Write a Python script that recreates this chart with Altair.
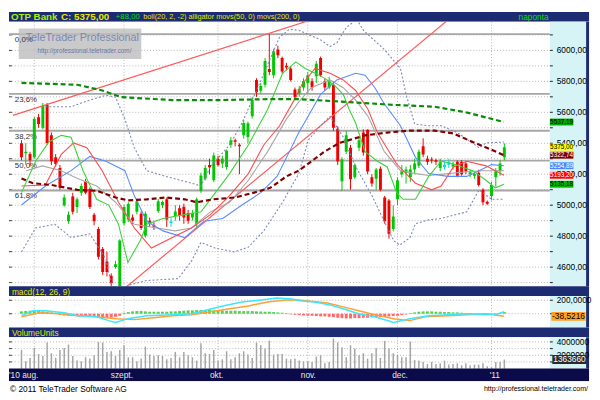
import altair as alt
import pandas as pd

FONT = "Liberation Sans, Arial, sans-serif"

# ---------------- data ----------------
OPEN = [5400, 5335, 5330, 5310, 5568, 5500, 5648, 5451, 5309, 5241,
        5000, 4896, 5056, 4988, 5081, 5155, 5105, 4939, 4846, 4717,
        4637, 4544, 4600, 4464, 4883, 4908, 4920, 4957, 4945, 4803,
        4900, 4870, 4963, 5000, 5038, 4885, 4930, 4980, 4990, 4950,
        4920, 4877, 5093, 5173, 5260, 5161, 5300, 5270, 5247, 5390,
        5420, 5390, 5451, 5440, 5574, 5809, 5740, 5778, 5880, 5840,
        6006, 5951, 5900, 5883, 5747, 5720, 5760, 5790, 5800, 5833,
        5951, 5800, 5760, 5778, 5494, 5155, 5346, 5371, 5180, 5371,
        5470, 5488, 5180, 5170, 5235, 5050, 5031, 4846, 5038, 5200,
        5210, 5180, 5230, 5254, 5380, 5300, 5295, 5290, 5240, 5245,
        5262, 5250, 5280, 5280, 5270, 5200, 5190, 5210, 5100, 5022,
        5060, 5180, 5220, 5309]
HIGH = [5420, 5400, 5345, 5570, 5590, 5660, 5660, 5470, 5330, 5260,
        5070, 4960, 5080, 5050, 5140, 5170, 5115, 4950, 4860, 4730,
        4700, 4560, 4640, 4780, 5000, 5020, 4940, 5040, 4960, 4960,
        4920, 4890, 5040, 5030, 5050, 4920, 5000, 5000, 5010, 4970,
        4970, 5050, 5210, 5260, 5300, 5340, 5320, 5320, 5360, 5440,
        5430, 5400, 5550, 5540, 5700, 5820, 5790, 5950, 6105, 6010,
        6030, 5960, 5920, 5900, 5760, 5770, 5820, 5860, 5820, 5930,
        5960, 5820, 5830, 5800, 5510, 5310, 5480, 5390, 5270, 5440,
        5490, 5490, 5200, 5240, 5250, 5060, 5040, 5000, 5180, 5260,
        5250, 5260, 5300, 5360, 5432, 5320, 5310, 5300, 5300, 5290,
        5300, 5280, 5290, 5290, 5280, 5230, 5220, 5230, 5110, 5030,
        5150, 5240, 5290, 5400]
LOW = [5290, 5260, 5250, 5300, 5500, 5490, 5390, 5260, 5250, 5100,
       4990, 4880, 4940, 4950, 5060, 5070, 4975, 4870, 4650, 4550,
       4540, 4470, 4590, 4450, 4870, 4890, 4880, 4940, 4840, 4790,
       4860, 4840, 4950, 4980, 4860, 4860, 4900, 4900, 4880, 4880,
       4900, 4860, 5080, 5160, 5200, 5150, 5250, 5240, 5230, 5370,
       5380, 5200, 5430, 5400, 5560, 5700, 5720, 5760, 5840, 5820,
       5950, 5850, 5870, 5800, 5680, 5700, 5740, 5720, 5740, 5790,
       5830, 5740, 5750, 5480, 5260, 5093, 5330, 5100, 5170, 5350,
       5320, 5200, 5120, 5100, 5090, 4880, 4784, 4830, 5000, 5180,
       5140, 5150, 5200, 5240, 5310, 5260, 5270, 5260, 5220, 5230,
       5240, 5230, 5180, 5190, 5200, 5180, 5170, 5120, 5000, 5000,
       5030, 5120, 5190, 5290]
CLOSE = [5310, 5345, 5290, 5556, 5525, 5642, 5402, 5284, 5266, 5112,
         5050, 4939, 4957, 5038, 5124, 5081, 4988, 4896, 4667, 4569,
         4569, 4495, 4618, 4772, 4988, 5007, 4900, 5025, 4853, 4945,
         4880, 4860, 5025, 5020, 4908, 4895, 4960, 4930, 4920, 4900,
         4950, 5038, 5192, 5241, 5245, 5321, 5260, 5300, 5352, 5420,
         5410, 5380, 5531, 5530, 5679, 5729, 5770, 5932, 5860, 5994,
         5969, 5864, 5890, 5809, 5698, 5750, 5803, 5840, 5760, 5914,
         5840, 5760, 5803, 5500, 5284, 5297, 5451, 5167, 5260, 5420,
         5340, 5217, 5140, 5230, 5100, 4896, 4815, 4927, 5161, 5220,
         5230, 5230, 5270, 5346, 5327, 5280, 5288, 5280, 5280, 5262,
         5278, 5265, 5190, 5200, 5220, 5212, 5202, 5130, 5019, 5010,
         5130, 5220, 5270, 5375]
NEUTRAL_IDX = [35, 99, 100]

VOLUME_M = [2.8, 1.1, 1.6, 3.1, 2.2, 1.9, 3.9, 2.3, 1.6, 2.8,
            3.1, 3.6, 1.9, 1.2, 1.1, 1.7, 1.5, 2.0, 4.0, 3.9,
            2.5, 2.6, 1.9, 2.8, 3.5, 1.7, 1.7, 1.1, 1.5, 3.3,
            2.1, 1.9, 2.0, 1.9, 1.4, 1.6, 2.5, 1.7, 2.5, 2.0,
            1.7, 1.2, 3.8, 2.3, 2.2, 2.8, 1.2, 1.4, 2.6, 1.4,
            1.7, 2.3, 2.6, 2.1, 1.6, 3.9, 3.5, 3.0, 4.2, 2.1,
            2.2, 2.2, 1.5, 1.4, 1.5, 1.2, 1.1, 1.1, 1.0, 1.8,
            2.0, 0.8, 1.0, 4.5, 3.95, 3.2, 1.7, 3.5, 3.0, 2.0,
            2.3, 1.5, 2.3, 3.1, 1.6, 4.15, 3.0, 2.3, 2.1, 1.7,
            1.7, 4.05, 1.3, 1.2, 1.0, 0.7, 1.0, 0.7, 0.8, 1.2,
            0.6, 0.7, 0.8, 0.5, 0.8, 0.5, 0.6, 0.6, 0.8, 0.35,
            0.2, 1.0, 1.0, 1.36366]

MACD_HIST = [35, 40, 45, 45, 40, 35, 30, 20, 10,
             -15, -25, -30, -35, -35, -30, -35, -40, -45, -50, -55, -60, -55, -45, -30,
             15, 25, 35, 40, 40, 35, 30, 30, 30, 30, 30, 35, 35, 40, 45, 50, 50, 55, 55, 55,
             55, 50, 50, 50, 45, 45, 45, 40, 40, 40, 40, 35, 35, 30, 30, 25, 20, 15, 10,
             -10, -15, -20, -25, -30, -30, -35, -40, -40, -45, -50, -60, -65, -70, -70, -65,
             -65, -60, -60, -55, -50, -50, -45, -40, -35, -30, -20, -10,
             10, 20, 30, 35, 35, 35, 30, 30, 25, 25, 20, 20, 15, 10, 10, 5,
             -10, -15, -20, -15, -10,
             10, 25]
MACD_LINE = [(0, -29), (2.7, 44), (5.6, 44), (10, 15), (13.1, -29), (17.6, -44), (20.4, -102),
             (22, -131), (24.9, -73), (29.3, -29), (35.3, -15), (39.8, 0), (42.7, 44), (47.1, 116),
             (51.6, 174), (56, 203), (59.8, 232), (63.3, 218), (65.6, 189), (68.7, 174), (72.2, 131),
             (75.3, 73), (78.9, 0), (82.7, -44), (86.4, -116), (87.1, -131), (90.9, -73), (95.3, -29),
             (99.8, -15), (104.2, 0), (108.7, -15), (111.6, 0), (112.9, 29)]
MACD_SIGNAL = [(0, -44), (4.2, 15), (8.7, 0), (13.1, -29), (17.6, -44), (22, -73), (26.4, -87),
               (30.9, -58), (35.3, -29), (39.8, -15), (44.2, 29), (48.7, 73), (53.1, 116), (57.6, 174),
               (62, 203), (64.9, 203), (67.1, 189), (71.6, 160), (75.3, 102), (78.9, 44), (82.7, -15),
               (87.1, -73), (90.9, -102), (94.4, -44), (99.8, -29), (104.2, -15), (108.7, 0), (112.9, -38.5)]
MACD_TAG = -38.5216
MACD_GRID = [0, 200]
MACD_LABELS = [200]

BOLL_UPPER = [(5.6, 5636), (11.6, 5636), (16, 5679), (19.8, 5710), (22, 5698), (24.2, 5556), (26.4, 5371),
              (29.3, 5223), (33.8, 5186), (39.8, 5142), (42, 5124), (44.2, 5247), (48.7, 5389), (51.6, 5531),
              (55.3, 5759), (60.4, 6086), (62.7, 6136), (64.9, 6130), (70, 6068), (72.2, 6025), (73.8, 6049),
              (76, 6148), (78.5, 6200), (80, 6130), (84.9, 6006), (88.7, 5883), (90, 5716), (92, 5525),
              (95.3, 5513), (98.2, 5513), (102, 5469), (107.1, 5371), (108.7, 5402), (112.9, 5408)]
BOLL_MID = [(1.1, 5223), (4.9, 5254), (9.3, 5223), (13.1, 5173), (17.6, 5124), (22, 5019), (26.4, 4877),
            (31.6, 4853), (36, 4834), (39.8, 4853), (44.2, 4957), (48.7, 5019), (53.1, 5161), (57.6, 5346),
            (62, 5556), (64.9, 5667), (67.8, 5759), (72.2, 5809), (75.3, 5759), (78.2, 5679), (81.1, 5574),
            (84.9, 5346), (88.7, 5223), (92.2, 5204), (95.3, 5192), (99.8, 5204), (104.2, 5216),
            (107.8, 5223), (112.9, 5223)]
BOLL_LOWER = [(0, 4698), (3.3, 4853), (7.8, 4877), (11.6, 4791), (16, 4815), (19.8, 4649), (21.1, 4482),
              (22.7, 4400), (24.9, 4482), (29.3, 4513), (36.7, 4526), (39.8, 4640), (42, 4760), (45.3, 4723),
              (49.8, 4698), (53.1, 4729), (56.7, 4834), (61.1, 5019), (64.9, 5204), (67.1, 5420), (70, 5513),
              (72.2, 5574), (75.3, 5440), (78.2, 5250), (82, 5062), (84.9, 4896), (87.1, 4772), (88.5, 4742),
              (90.9, 4790), (92.2, 4880), (95.3, 4905), (98.2, 4914), (104.2, 4957), (107.1, 5099),
              (110, 5038), (112.9, 5038)]
JAW = [(0, 5001), (5.6, 5124), (11.6, 5223), (16, 5315), (19.8, 5284), (24.2, 5223), (26.4, 5062),
       (29.3, 4896), (33.1, 4834), (38.2, 4791), (42.7, 4896), (47.1, 4914), (51.6, 5001), (56, 5081),
       (59.8, 5186), (62.7, 5346), (64.9, 5469), (67.1, 5574), (70, 5716), (73.8, 5809), (78.2, 5852),
       (80.4, 5840), (82.7, 5759), (84.9, 5655), (88.7, 5513), (92.2, 5309), (95.3, 5204), (99.8, 5186),
       (104.2, 5186), (107.1, 5223), (110, 5262), (112.9, 5255)]
TEETH = [(0, 5124), (5.6, 5130), (9.3, 5328), (12.2, 5402), (15.3, 5371), (18.9, 5223), (22.7, 5019),
         (26.4, 4853), (30.4, 4723), (35.3, 4791), (39.8, 4853), (44.2, 4939), (48.7, 5062), (53.1, 5204),
         (56.7, 5389), (60.4, 5513), (64.2, 5698), (65.6, 5778), (68.7, 5883), (72.2, 5852), (75.3, 5809),
         (78.2, 5741), (81.1, 5618), (83.3, 5469), (87.8, 5266), (92.2, 5142), (96, 5099), (98.2, 5124),
         (101.1, 5247), (104.2, 5284), (108.7, 5254), (112.9, 5193)]
LIPS = [(0, 5081), (3.3, 5284), (6.4, 5408), (9.3, 5451), (11.6, 5439), (14.4, 5223), (17.6, 5038),
        (20.4, 5001), (22.7, 4877), (24.9, 4630), (27.8, 4772), (29.3, 4877), (33.1, 4914), (38.2, 4939),
        (42, 4957), (44.2, 5038), (48.7, 5204), (53.1, 5389), (57.6, 5618), (61.1, 5852), (64.2, 5926),
        (66.4, 5883), (68.7, 5852), (70.9, 5821), (73.1, 5778), (75.3, 5716), (76.7, 5618), (78.2, 5531),
        (80.4, 5346), (83.3, 5284), (85.6, 5247), (87.8, 5081), (89.3, 5038), (92.2, 5038), (95.3, 5186),
        (98.2, 5284), (101.1, 5266), (105.6, 5223), (108.7, 5161), (110.9, 5112), (112.9, 5135)]
MA50 = [(0, 5173), (2.7, 5142), (7.1, 5130), (13.1, 5099), (17.6, 5093), (22, 5050), (24.9, 5031),
        (29.3, 5038), (33.8, 5050), (38.2, 5038), (41.1, 5019), (44.9, 5038), (50, 5050), (54.4, 5081),
        (58.2, 5112), (62, 5186), (64.9, 5223), (70.9, 5346), (74.4, 5402), (80.4, 5451), (85.6, 5469),
        (90.9, 5482), (96.7, 5482), (101.1, 5463), (105.6, 5408), (110, 5358), (112.9, 5323)]
MA200 = [(0, 5790), (13.1, 5778), (18.9, 5741), (23.3, 5698), (35.3, 5679), (46.4, 5679), (57.6, 5685),
         (64.9, 5685), (76, 5667), (87.1, 5648), (96.7, 5636), (104.2, 5599), (112.9, 5537)]
TREND_1 = [(-2, 5580), (68, 6199)]
TREND_2 = [(23, 4437), (100, 6201)]

FIB_LEVELS = [6105, 5719, 5481, 5288, 5095]
FIB_LABELS = ["0,0%", "23,6%", "38,2%", "50,0%", "61,8%"]
PRICE_GRID = [4500, 4600, 4700, 4800, 4900, 5000, 5100, 5200, 5300, 5400, 5500,
              5600, 5700, 5800, 5900, 6000, 6100]
PRICE_LABELS = [4600, 4800, 5000, 5200, 5400, 5600, 5800, 6000]
MONTH_IDX = [3, 24, 46, 67, 88, 110]
MONTH_LABELS = ["'10 aug.", "szept.", "okt.", "nov.", "dec.", "'11"]
MONTH_LABEL_POS = [1.6, 24.2, 46, 67.1, 88.2, 110]

TAG_VALUES = [5537.19, 5375.00, 5322.74, 5254.89, 5193.20, 5135.18]
TAG_BG = ["#00a800", "#ffff00", "#800000", "#4a86ff", "#ff0000", "#00b800"]
TAG_FG = ["#000000", "#000000", "#ffffff", "#ffffff", "#ffffff", "#000000"]

VOL_GRID = [1e6, 2e6, 3e6, 4e6]
VOL_LABELS = [2e6, 4e6]
VOL_TAG = 1363660

# ---------------- layout / style ----------------
W = 592
PLOT_W = 552
H_TITLE, H_MAIN, H_MBAR, H_MACD, H_VBAR, H_VOL, H_DATE, H_FOOT = 10, 270, 10, 32, 10, 32, 13, 15
BAR_BLUE = "#1c2b72"
DATE_BLUE = "#0b0b4a"
AXIS_CYAN = "#d6f3f6"
GRID = "#b4b4b4"
UP, DOWN, NEUTRAL = "#00c800", "#f00000", "#00dcdc"
YELLOW, GREEN_TXT = "#e6e600", "#00e000"
LABEL_X = 559

XS = alt.Scale(domain=[-1.78, 131.68], nice=False, zero=False)
one = pd.DataFrame({"k": [0]})


def xenc(field="i"):
    return alt.X(f"{field}:Q", scale=XS, axis=None)


def text_bar(height, fill, items):
    layers = []
    for x, txt, col, size, weight, align in items:
        layers.append(
            alt.Chart(one).mark_text(align=align, baseline="middle", font=FONT, fontSize=size,
                                     fontWeight=weight, color=col)
            .encode(x=alt.value(x), y=alt.value(height / 2 + 0.5), text=alt.value(txt))
        )
    return alt.layer(*layers).properties(width=W, height=height,
                                         view=alt.ViewBackground(fill=fill, stroke=None))


def strip_rects(height):
    return [
        alt.Chart(one).mark_rect(color=AXIS_CYAN).encode(
            x=alt.value(PLOT_W), x2=alt.value(W - 3), y=alt.value(0), y2=alt.value(height)),
        alt.Chart(one).mark_rect(color=BAR_BLUE).encode(
            x=alt.value(W - 3), x2=alt.value(W), y=alt.value(0), y2=alt.value(height)),
    ]


def month_rules():
    return alt.Chart(pd.DataFrame({"i": MONTH_IDX})).mark_rule(
        color=GRID, strokeDash=[1, 2], strokeWidth=1).encode(x=xenc())


def price_scale_layers(yfun, grid_vals, label_vals, labels):
    grid = pd.DataFrame({"v": grid_vals})
    lab = pd.DataFrame({"v": label_vals, "t": labels})
    return [
        alt.Chart(grid).mark_rule(color=GRID, strokeDash=[1, 2], strokeWidth=1).encode(
            y=yfun("v"), x=alt.value(0), x2=alt.value(PLOT_W)),
        alt.Chart(grid).mark_rule(color="#404040", strokeWidth=1).encode(
            y=yfun("v"), x=alt.value(0), x2=alt.value(3)),
    ], [
        alt.Chart(grid).mark_rule(color="#202020", strokeWidth=1).encode(
            y=yfun("v"), x=alt.value(PLOT_W), x2=alt.value(PLOT_W + 3)),
        alt.Chart(lab).mark_text(align="left", baseline="middle", font=FONT, fontSize=8.5,
                                 color="#000000").encode(y=yfun("v"), x=alt.value(LABEL_X), text="t:N"),
    ]


def comma(v, nd):
    return f"{v:.{nd}f}".replace(".", ",")


# ---------------- main price panel ----------------
YS_MAIN = alt.Scale(domain=[4476, 6185], nice=False, zero=False)


def ym(field):
    return alt.Y(f"{field}:Q", scale=YS_MAIN, axis=None)


colors = []
for k in range(len(OPEN)):
    if k in NEUTRAL_IDX:
        colors.append(NEUTRAL)
    elif CLOSE[k] >= OPEN[k]:
        colors.append(UP)
    else:
        colors.append(DOWN)
candles = pd.DataFrame({"i": list(range(len(OPEN))), "o": OPEN, "h": HIGH, "l": LOW,
                        "c": CLOSE, "col": colors})


def line(points, color, width=1.0, dash=None, yfun=ym):
    kw = dict(color=color, strokeWidth=width, clip=True)
    if dash:
        kw["strokeDash"] = dash
    return alt.Chart(pd.DataFrame(points, columns=["i", "v"])).mark_line(**kw).encode(
        x=xenc(), y=yfun("v"))


fib = pd.DataFrame({"v": FIB_LEVELS, "t": FIB_LABELS})
tags = pd.DataFrame({"v": TAG_VALUES, "t": [comma(v, 2) for v in TAG_VALUES],
                     "bg": TAG_BG, "fg": TAG_FG})
g_main, s_main = price_scale_layers(ym, PRICE_GRID, PRICE_LABELS, [comma(v, 2) for v in PRICE_LABELS])

main_layers = g_main + [
    month_rules(),
    alt.Chart(fib).mark_rule(color="#a6a6a6", strokeWidth=2).encode(
        y=ym("v"), x=alt.value(0), x2=alt.value(PLOT_W)),
    alt.Chart(one).mark_rect(color="#bdbdbd", opacity=0.8).encode(
        x=alt.value(10), x2=alt.value(135), y=alt.value(7), y2=alt.value(38)),
    alt.Chart(fib).mark_text(align="left", baseline="top", dy=2, font=FONT, fontSize=8,
                             color="#303030").encode(y=ym("v"), x=alt.value(6), text="t:N"),
    alt.Chart(one).mark_text(align="left", baseline="middle", font=FONT, fontSize=11,
                             color="#7a88b8").encode(
        x=alt.value(17), y=alt.value(17), text=alt.value("TeleTrader Professional")),
    alt.Chart(one).mark_text(align="left", baseline="middle", font=FONT, fontSize=6.5,
                             color="#6a78a8").encode(
        x=alt.value(29), y=alt.value(29.5), text=alt.value("http://professional.teletrader.com/")),
    alt.Chart(candles).mark_rule(strokeWidth=1, clip=True).encode(
        x=xenc(), y=ym("l"), y2="h:Q", color=alt.Color("col:N", scale=None)),
    alt.Chart(candles).mark_bar(size=3, clip=True).encode(
        x=xenc(), y=ym("o"), y2="c:Q", color=alt.Color("col:N", scale=None)),
    line(TREND_1, "#ff5a5a", 1.2),
    line(TREND_2, "#ff5a5a", 1.2),
    line(BOLL_UPPER, "#7c88b8", 1.1, [2, 2]),
    line(BOLL_LOWER, "#7c88b8", 1.1, [2, 2]),
    line(BOLL_MID, "#a8a8a8", 1.1),
    line(JAW, "#5a8cff", 1.1),
    line(TEETH, "#ff4a4a", 1.1),
    line(LIPS, "#3cd23c", 1.1),
    line(MA200, "#0a8a0a", 2.2, [5, 3]),
    line(MA50, "#800000", 2.2, [5, 3]),
] + strip_rects(H_MAIN) + s_main + [
    alt.Chart(tags).mark_tick(orient="horizontal", thickness=7, size=24, filled=True, opacity=1).encode(
        x=alt.value(564), y=ym("v"), color=alt.Color("bg:N", scale=None)),
    alt.Chart(tags).mark_text(align="center", baseline="middle", font=FONT, fontSize=6.5).encode(
        x=alt.value(564), y=ym("v"), text="t:N", color=alt.Color("fg:N", scale=None)),
]
main = alt.layer(*main_layers).properties(
    width=W, height=H_MAIN, view=alt.ViewBackground(fill="#ffffff", stroke=None))

# ---------------- MACD panel ----------------
YS_MACD = alt.Scale(domain=[-203.5, 261.6], nice=False, zero=False)


def ymacd(field):
    return alt.Y(f"{field}:Q", scale=YS_MACD, axis=None)


hist = pd.DataFrame({"i": list(range(len(MACD_HIST))), "h": MACD_HIST,
                     "col": ["#58d058" if v >= 0 else "#ff6a6a" for v in MACD_HIST]})
macd_tag = pd.DataFrame({"v": [MACD_TAG], "t": [comma(MACD_TAG, 4)]})
g_macd, s_macd = price_scale_layers(ymacd, MACD_GRID, MACD_LABELS, [comma(v, 4) for v in MACD_LABELS])
macd_layers = g_macd + [
    month_rules(),
    alt.Chart(hist).mark_bar(size=3).encode(x=xenc(), y=ymacd("h"), color=alt.Color("col:N", scale=None)),
    line(MACD_SIGNAL, "#ffa030", 1.5, yfun=ymacd),
    line(MACD_LINE, "#3ce6ff", 1.5, yfun=ymacd),
] + strip_rects(H_MACD) + s_macd + [
    alt.Chart(macd_tag).mark_tick(orient="horizontal", thickness=9, size=35, filled=True, opacity=1,
                                  color="#ffa020").encode(x=alt.value(571), y=ymacd("v")),
    alt.Chart(macd_tag).mark_text(align="center", baseline="middle", font=FONT, fontSize=8.5,
                                  color="#000000").encode(x=alt.value(571), y=ymacd("v"), text="t:N"),
]
macd = alt.layer(*macd_layers).properties(
    width=W, height=H_MACD, view=alt.ViewBackground(fill="#ffffff", stroke=None))

# ---------------- Volume panel ----------------
YS_VOL = alt.Scale(domain=[0, 4.7e6], nice=False, zero=False)


def yvol(field):
    return alt.Y(f"{field}:Q", scale=YS_VOL, axis=None)


vol = pd.DataFrame({"i": list(range(len(VOLUME_M))), "v": [m * 1e6 for m in VOLUME_M]})
vol_tag = pd.DataFrame({"v": [VOL_TAG], "t": [str(VOL_TAG)]})
g_vol, s_vol = price_scale_layers(yvol, VOL_GRID, VOL_LABELS, [str(int(v)) for v in VOL_LABELS])
vol_layers = g_vol + [
    month_rules(),
    alt.Chart(vol).mark_bar(size=1.5, color="#a4a4a4").encode(x=xenc(), y=yvol("v")),
] + strip_rects(H_VOL) + s_vol + [
    alt.Chart(vol_tag).mark_tick(orient="horizontal", thickness=9, size=35, filled=True, opacity=1,
                                 color="#2a2a2a").encode(x=alt.value(572), y=yvol("v")),
    alt.Chart(vol_tag).mark_text(align="center", baseline="middle", font=FONT, fontSize=8.5,
                                 color="#ffffff").encode(x=alt.value(572), y=yvol("v"), text="t:N"),
]
volume = alt.layer(*vol_layers).properties(
    width=W, height=H_VOL, view=alt.ViewBackground(fill="#ffffff", stroke=None))

# ---------------- date bar ----------------
dates = pd.DataFrame({"i": MONTH_LABEL_POS, "t": MONTH_LABELS})
date_bar = alt.Chart(dates).mark_text(align="center", baseline="middle", font=FONT, fontSize=8.5,
                                      color="#e8e8d8").encode(
    x=xenc(), y=alt.value(H_DATE / 2 + 0.5), text="t:N").properties(
    width=W, height=H_DATE, view=alt.ViewBackground(fill=DATE_BLUE, stroke=None))

# ---------------- title bars & footer ----------------
top_bar = text_bar(H_TITLE, BAR_BLUE, [
    (2, "OTP Bank", "#a8f000", 10, "bold", "left"),
    (53, "C: 5375,00", YELLOW, 10, "bold", "left"),
    (109, "+88,00", GREEN_TXT, 8, "normal", "left"),
    (137, "boll(20, 2, -2) alligator movs(50, 0) movs(200, 0)", YELLOW, 7.5, "normal", "left"),
    (520, "naponta", GREEN_TXT, 8.5, "normal", "left"),
])
macd_bar = text_bar(H_MBAR, BAR_BLUE, [(3, "macd(12, 26, 9)", YELLOW, 8.5, "normal", "left")])
vol_bar = text_bar(H_VBAR, BAR_BLUE, [(3, "VolumeUnits", YELLOW, 8.5, "normal", "left")])
footer = text_bar(H_FOOT, "#ffffff", [
    (1, "\u00a9 2011 TeleTrader Software AG", "#000000", 8.5, "normal", "left"),
    (W - 1, "http://professional.teletrader.com/", "#000000", 7.2, "normal", "right"),
])

chart = alt.vconcat(top_bar, main, macd_bar, macd, vol_bar, volume, date_bar, footer,
                    spacing=0, bounds="flush").properties(
    padding=0, background="#ffffff"
).configure_view(stroke=None)

chart.save("out.html", embed_options={"renderer": "svg", "actions": False})
